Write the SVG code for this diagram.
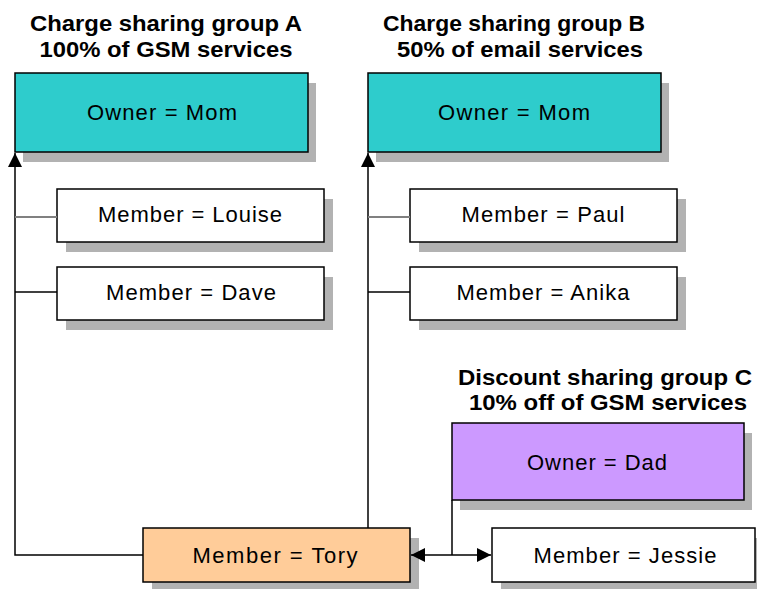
<svg xmlns="http://www.w3.org/2000/svg" width="757" height="589" viewBox="0 0 757 589">
  <style>
    .title { font-family: "Liberation Sans", Arial, sans-serif; font-weight: bold; font-size: 22px; fill: #000; text-anchor: middle; }
    .label { font-family: "Liberation Sans", Arial, sans-serif; font-size: 22px; fill: #000; text-anchor: middle; }
    .box { stroke: #000; stroke-width: 1.5; }
    .shadow { fill: #b2b2b2; }
    .owner { fill: #2ecccc; }
    .owner-c { fill: #cc99ff; }
    .member { fill: #ffffff; }
    .member-x { fill: #ffcc99; }
    .link { stroke: #000; stroke-width: 1.5; fill: none; }
    .link-soft { stroke: #808080; stroke-width: 2; fill: none; }
  </style>
  <defs>
    <marker id="arrow" viewBox="0 0 14 14" refX="14" refY="7" markerWidth="14" markerHeight="14" markerUnits="userSpaceOnUse" orient="auto">
      <path d="M0,0 L14,7 L0,14 Z" fill="#000"/>
    </marker>
    <marker id="arrow-start" viewBox="0 0 14 14" refX="0" refY="7" markerWidth="14" markerHeight="14" markerUnits="userSpaceOnUse" orient="auto">
      <path d="M14,0 L0,7 L14,14 Z" fill="#000"/>
    </marker>
  </defs>
  <rect width="757" height="589" fill="#fff"/>

  <!-- Group titles -->
  <g id="titles">
    <text class="title" x="166" y="31" textLength="272" lengthAdjust="spacingAndGlyphs">Charge sharing group A</text>
    <text class="title" x="166" y="57" textLength="253" lengthAdjust="spacingAndGlyphs">100% of GSM services</text>
    <text class="title" x="514" y="31" textLength="262" lengthAdjust="spacingAndGlyphs">Charge sharing group B</text>
    <text class="title" x="520" y="57" textLength="246" lengthAdjust="spacingAndGlyphs">50% of email services</text>
    <text class="title" x="605" y="385" textLength="294" lengthAdjust="spacingAndGlyphs">Discount sharing group C</text>
    <text class="title" x="608" y="410" textLength="278" lengthAdjust="spacingAndGlyphs">10% off of GSM services</text>
  </g>

  <!-- Group A -->
  <g id="owner-a">
    <rect class="shadow" x="23" y="83" width="293" height="79"/>
    <rect class="box owner" x="15" y="73" width="293" height="79"/>
    <text class="label" x="162" y="120" textLength="150" lengthAdjust="spacing">Owner = Mom</text>
  </g>
  <g id="member-louise">
    <rect class="shadow" x="66" y="199" width="267" height="53"/>
    <rect class="box member" x="57" y="189" width="267" height="53"/>
    <text class="label" x="190" y="222" textLength="184" lengthAdjust="spacing">Member = Louise</text>
  </g>
  <g id="member-dave">
    <rect class="shadow" x="66" y="277" width="267" height="53"/>
    <rect class="box member" x="57" y="267" width="267" height="53"/>
    <text class="label" x="191" y="300" textLength="170" lengthAdjust="spacing">Member = Dave</text>
  </g>

  <!-- Group B -->
  <g id="owner-b">
    <rect class="shadow" x="376" y="83" width="293" height="79"/>
    <rect class="box owner" x="368" y="73" width="293" height="79"/>
    <text class="label" x="514" y="120" textLength="152" lengthAdjust="spacing">Owner = Mom</text>
  </g>
  <g id="member-paul">
    <rect class="shadow" x="419" y="199" width="267" height="53"/>
    <rect class="box member" x="410" y="189" width="267" height="53"/>
    <text class="label" x="543" y="222" textLength="163" lengthAdjust="spacing">Member = Paul</text>
  </g>
  <g id="member-anika">
    <rect class="shadow" x="419" y="277" width="267" height="53"/>
    <rect class="box member" x="410" y="267" width="267" height="53"/>
    <text class="label" x="543" y="300" textLength="173" lengthAdjust="spacing">Member = Anika</text>
  </g>

  <!-- Group C -->
  <g id="owner-c">
    <rect class="shadow" x="460" y="433" width="292" height="77"/>
    <rect class="box owner-c" x="452" y="423" width="292" height="77"/>
    <text class="label" x="597" y="470" textLength="140" lengthAdjust="spacing">Owner = Dad</text>
  </g>
  <g id="member-jessie">
    <rect class="shadow" x="501" y="538" width="263" height="54"/>
    <rect class="box member" x="492" y="528" width="263" height="54"/>
    <text class="label" x="625" y="563" textLength="183" lengthAdjust="spacing">Member = Jessie</text>
  </g>

  <!-- Shared member -->
  <g id="member-tory">
    <rect class="shadow" x="152" y="538" width="267" height="54"/>
    <rect class="box member-x" x="143" y="528" width="267" height="54"/>
    <text class="label" x="275" y="563" textLength="165" lengthAdjust="spacing">Member = Tory</text>
  </g>

  <!-- Connectors (drawn last so arrowheads sit over the shadows) -->
  <g id="connectors">
    <path class="link" d="M143,555 H15 V153" marker-end="url(#arrow)"/>
    <path class="link-soft" d="M15,217 H57"/>
    <path class="link" d="M15,292 H57"/>
    <path class="link" d="M368,528 V153" marker-end="url(#arrow)"/>
    <path class="link-soft" d="M368,217 H410"/>
    <path class="link" d="M368,292 H410"/>
    <path class="link" d="M452,500 V555"/>
    <path class="link" d="M411,555 H491" marker-start="url(#arrow-start)" marker-end="url(#arrow)"/>
  </g>
</svg>
